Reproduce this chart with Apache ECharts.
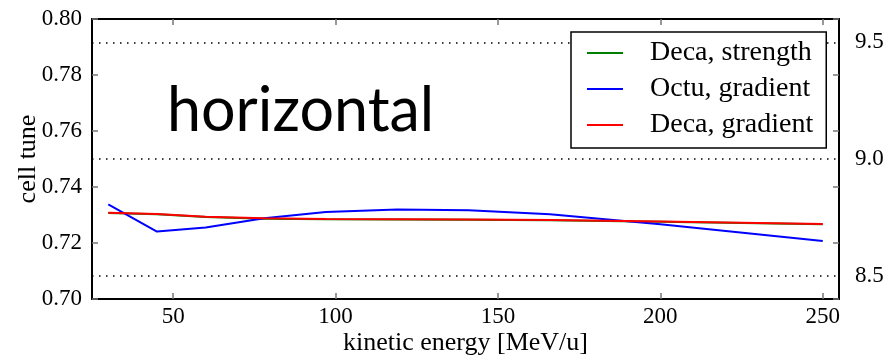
<!DOCTYPE html>
<html>
<head>
<meta charset="utf-8">
<script src="https://cdn.jsdelivr.net/npm/echarts@6/dist/echarts.min.js"></script>
<style>html,body{margin:0;padding:0;background:#fff;}#c{width:890px;height:356px;}</style>
</head>
<body>
<div id="c"></div>
<script>
// Data
var energies = [30, 45, 60, 78, 97, 119, 141, 166, 200, 250];
var decaStrength = [0.7307, 0.7303, 0.7293, 0.7287, 0.7285, 0.7284, 0.7283, 0.7281, 0.7276, 0.7267];
var octuGradient = [0.7338, 0.7241, 0.7255, 0.7288, 0.7311, 0.7320, 0.7317, 0.7303, 0.7267, 0.7207];
var decaGradient = [0.7308, 0.7304, 0.7294, 0.7288, 0.7286, 0.7285, 0.7284, 0.7282, 0.7277, 0.7268];
var xTicks = [50, 100, 150, 200, 250];
var rightTicks = [8.5, 9.0, 9.5];
var seriesNames = ['Deca, strength', 'Octu, gradient', 'Deca, gradient'];
var seriesColors = ['#008000', '#0000ff', '#ff0000'];

function pairs(xs, ys) { return xs.map(function (x, i) { return [x, ys[i]]; }); }
var allValues = [decaStrength, octuGradient, decaGradient];

var serif = 'Liberation Serif';
var chart = echarts.init(document.getElementById('c'), null, { renderer: 'canvas' });
var tickStyle = { show: true, inside: true, length: 6, lineStyle: { color: '#777', width: 1.5 } };
var frameLine = { show: true, lineStyle: { color: '#000', width: 2 } };

chart.setOption({
  animation: false,
  backgroundColor: '#fff',
  grid: { left: 92, right: 51, top: 19, bottom: 57, containLabel: false, outerBoundsMode: 'none' },
  xAxis: [{
    type: 'value', min: 25, max: 255, position: 'bottom',
    axisLine: frameLine,
    axisTick: Object.assign({ customValues: xTicks }, tickStyle),
    axisLabel: { customValues: xTicks, margin: 6, color: '#000', fontFamily: serif, fontSize: 23 },
    splitLine: { show: false },
    name: 'kinetic energy [MeV/u]', nameLocation: 'middle', nameGap: 31, nameMoveOverlap: false,
    nameTextStyle: { color: '#000', fontFamily: serif, fontSize: 26, lineHeight: 26 }
  }, {
    type: 'value', min: 25, max: 255, position: 'top',
    axisLine: frameLine,
    axisTick: Object.assign({ customValues: xTicks }, tickStyle),
    axisLabel: { show: false, customValues: xTicks },
    splitLine: { show: false }
  }],
  yAxis: [{
    type: 'value', min: 0.70, max: 0.80, interval: 0.02, position: 'left',
    axisLine: frameLine,
    axisTick: tickStyle,
    axisLabel: { margin: 10, color: '#000', fontFamily: serif, fontSize: 23,
      formatter: function (v) { return v.toFixed(2); } },
    splitLine: { show: false },
    name: 'cell tune', nameLocation: 'middle', nameGap: 51, nameMoveOverlap: false,
    nameTextStyle: { color: '#000', fontFamily: serif, fontSize: 26, lineHeight: 26 }
  }, {
    type: 'value', min: 8.4, max: 9.6, position: 'right',
    axisLine: { show: false },
    axisTick: { show: false, customValues: rightTicks },
    axisLabel: { customValues: rightTicks, margin: 16, color: '#000', fontFamily: serif, fontSize: 23,
      formatter: function (v) { return v.toFixed(1); } },
    splitLine: { show: true, lineStyle: { color: '#000', width: 1.5, type: [1.5, 5.5] } }
  }, {
    type: 'value', min: 0.70, max: 0.80, interval: 0.02, position: 'right',
    axisLine: frameLine,
    axisTick: tickStyle,
    axisLabel: { show: false },
    splitLine: { show: false }
  }],
  legend: {
    orient: 'vertical', left: 571, top: 32,
    data: seriesNames,
    backgroundColor: '#fff', borderColor: '#000', borderWidth: 1.5,
    padding: [7, 13, 9, 16],
    itemWidth: 36, itemHeight: 2, itemGap: 8, icon: 'rect',
    textStyle: { color: '#000', fontFamily: serif, fontSize: 28, padding: [0, 0, 0, 22] }
  },
  graphic: [{
    type: 'text', left: 167, top: 81, silent: true,
    style: { text: 'horizontal', fill: '#000', font: '61px Lato' }
  }],
  series: seriesNames.map(function (n, i) {
    return {
      name: n, type: 'line', xAxisIndex: 0, yAxisIndex: 0,
      data: pairs(energies, allValues[i]),
      showSymbol: false, symbol: 'none',
      itemStyle: { color: seriesColors[i] },
      lineStyle: { color: seriesColors[i], width: 2 }
    };
  })
});
</script>
</body>
</html>
